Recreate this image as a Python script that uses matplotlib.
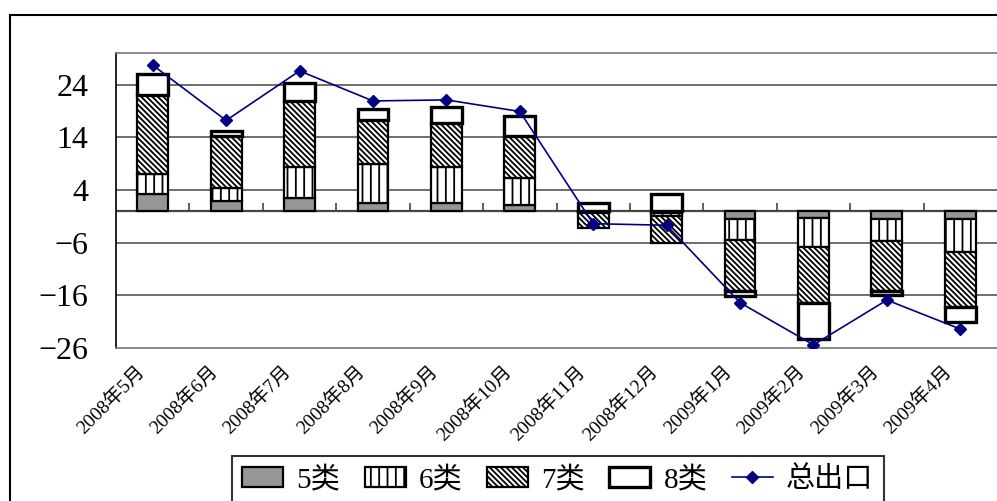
import matplotlib
matplotlib.use('Agg')
import matplotlib.pyplot as plt
import matplotlib.transforms as mtransforms
from matplotlib.patches import Rectangle
import numpy as np

plt.rcParams['font.family'] = ['Liberation Serif', 'Noto Sans CJK SC', 'DejaVu Sans']
plt.rcParams['hatch.linewidth'] = 1.3

# 月份
months = ['2008年5月', '2008年6月', '2008年7月', '2008年8月', '2008年9月', '2008年10月',
          '2008年11月', '2008年12月', '2009年1月', '2009年2月', '2009年3月', '2009年4月']

# 各类商品对出口增长的贡献
cls5 = [3.2, 2.0, 2.5, 1.6, 1.5, 1.1, -0.1, -0.3, -1.5, -1.4, -1.5, -1.5]
cls6 = [3.8, 2.3, 5.9, 7.3, 6.8, 5.1, -0.2, -0.6, -4.0, -5.4, -4.1, -6.2]
cls7 = [15.1, 10.0, 12.5, 8.3, 8.5, 8.1, -3.0, -5.1, -9.6, -10.6, -9.5, -10.6]
cls8 = [3.9, 0.9, 3.4, 2.1, 2.9, 3.8, 1.6, 3.3, -1.1, -6.9, -0.8, -2.7]
total = [27.7, 17.2, 26.6, 20.9, 21.1, 18.9, -2.4, -2.7, -17.4, -25.4, -16.9, -22.4]

yticks = [-26, -16, -6, 4, 14, 24]
ytick_labels = ['\u221226', '\u221216', '\u22126', '4', '14', '24']

fig = plt.figure(figsize=(9.97, 5.01), dpi=100)
W, H = 997, 501
ax = fig.add_axes([116 / W, 1 - 348 / H, 1 - 116 / W, (348 - 53) / H])

x = np.arange(len(months))
width = 0.42

series = [
    ('5类', cls5, dict(facecolor='#969696', edgecolor='black', linewidth=1.6, hatch=None)),
    ('6类', cls6, dict(facecolor='white', edgecolor='black', linewidth=1.6, hatch='||')),
    ('7类', cls7, dict(facecolor='white', edgecolor='black', linewidth=1.6, hatch='\\' * 6)),
    ('8类', cls8, dict(facecolor='white', edgecolor='black', linewidth=2.4, hatch=None)),
]

pos_base = np.zeros(len(x))
neg_base = np.zeros(len(x))
handles = []
for name, vals, style in series:
    vals = np.array(vals)
    bottom = np.where(vals >= 0, pos_base, neg_base)
    bars = ax.bar(x, vals, width, bottom=bottom, label=name, zorder=3, **style)
    pos_base += np.where(vals >= 0, vals, 0)
    neg_base += np.where(vals < 0, vals, 0)
    handles.append(bars)

line, = ax.plot(x, total, color='#000080', lw=1.2, marker='D', markersize=6,
                markerfacecolor='#000080', markeredgecolor='#000080', zorder=4, label='总出口')
handles.append(line)

ax.set_xlim(-0.5, len(x) - 0.5)
ax.set_ylim(-26, 30)

# 网格线和零轴
for yv in yticks[1:]:
    ax.axhline(yv, color='#555555', lw=1.2, zorder=1)
ax.axhline(0, color='#444444', lw=1.6, zorder=2)

ax.set_yticks(yticks)
ax.set_yticklabels(ytick_labels, fontsize=23)
ax.tick_params(axis='y', length=0, pad=20)

ax.set_xticks(x)
ax.set_xticklabels(months, rotation=45, ha='right', va='center',
                   rotation_mode='anchor', fontsize=14)
ax.tick_params(axis='x', length=0, pad=15)
offset = mtransforms.ScaledTranslation(-11 / 100, 0, fig.dpi_scale_trans)
for lab in ax.get_xticklabels():
    lab.set_transform(lab.get_transform() + offset)

# 零轴上的刻度线
sec = ax.secondary_xaxis(26 / 56)
sec.set_xticks(np.arange(len(x) - 1) + 0.5)
sec.tick_params(direction='in', length=6, width=1.2, color='#444444', labelbottom=False, labeltop=False)
sec.spines['bottom'].set_visible(False)
sec.spines['top'].set_visible(False)

for side in ['top', 'bottom']:
    ax.spines[side].set_color('#777777')
    ax.spines[side].set_linewidth(1.2)
ax.spines['left'].set_color('black')
ax.spines['left'].set_linewidth(1.2)
ax.spines['right'].set_visible(False)

# 外框
fig.add_artist(Rectangle((10 / W, -0.1), 1.2, 1 - 15 / H + 0.1, transform=fig.transFigure,
                         fill=False, edgecolor='black', linewidth=1.5))

leg = fig.legend(handles, [h.get_label() for h in handles], ncol=5,
                 loc='upper left', bbox_to_anchor=(232 / W, 1 - 456 / H),
                 fontsize=21, frameon=True, fancybox=False, edgecolor='black',
                 handlelength=1.4, handleheight=0.65, handletextpad=0.45,
                 columnspacing=0.85, borderpad=0.35, borderaxespad=0)
leg.get_frame().set_linewidth(1.5)

fig.savefig('out.png', dpi=100)
